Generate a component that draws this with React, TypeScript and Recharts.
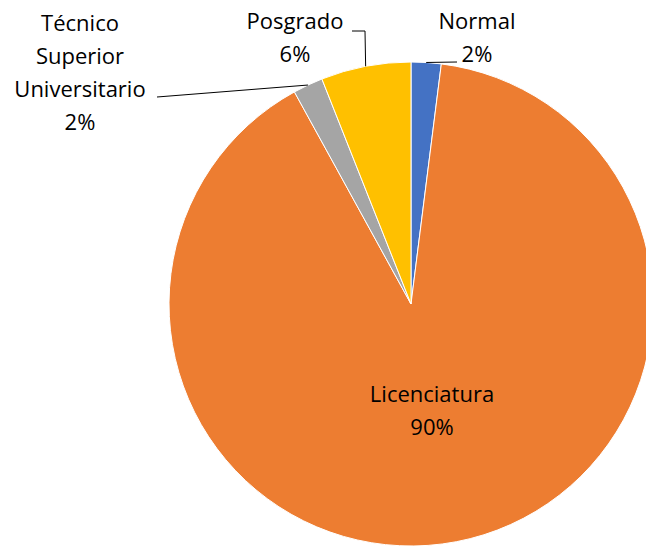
import { PieChart, Pie, Cell } from 'recharts';

const categories = ['Normal', 'Licenciatura', 'Técnico Superior Universitario', 'Posgrado'];
const shares = [2, 90, 2, 6];
const colors = ['#4472C4', '#ED7D31', '#A5A5A5', '#FFC000'];

const data = categories.map((name, i) => ({ name, value: shares[i] }));

// label placement relative to the pie centre (text lines + leader path)
const labelLayout: Record<string, { dx: number; dy: number; lines: string[]; leader?: Array<[number, number]> }> = {
  Normal: { dx: 66, dy: -284, lines: ['Normal'], leader: [[46, -242]] },
  Licenciatura: { dx: 21, dy: 89, lines: ['Licenciatura'] },
  'Técnico Superior Universitario': {
    dx: -331,
    dy: -282,
    lines: ['Técnico', 'Superior', 'Universitario'],
    leader: [[-254, -207]],
  },
  Posgrado: { dx: -116, dy: -284, lines: ['Posgrado'], leader: [[-46, -273], [-59, -273]] },
};

const LINE = 33;
const RAD = Math.PI / 180;

const renderLabel = (props: any) => {
  const { cx, cy, midAngle, outerRadius, name, value } = props;
  const layout = labelLayout[name];
  if (!layout) return null;
  const lines = [...layout.lines, `${value}%`];
  const sx = cx + outerRadius * Math.cos(-midAngle * RAD);
  const sy = cy + outerRadius * Math.sin(-midAngle * RAD);
  const pts = layout.leader ? [[sx, sy], ...layout.leader.map(([x, y]) => [cx + x, cy + y])] : null;
  return (
    <g>
      {pts && (
        <polyline
          points={pts.map((p) => p.join(',')).join(' ')}
          fill="none"
          stroke="#000"
          strokeWidth={1}
        />
      )}
      <text
        x={cx + layout.dx}
        y={cy + layout.dy}
        textAnchor="middle"
        dominantBaseline="central"
        fill="#000"
        style={{ fontSize: 22, fontFamily: "'Open Sans', 'Noto Sans', sans-serif" }}
      >
        {lines.map((l, i) => (
          <tspan key={i} x={cx + layout.dx} dy={i === 0 ? 0 : LINE}>
            {l}
          </tspan>
        ))}
      </text>
    </g>
  );
};

export default function App() {
  return (
    <div style={{ position: 'fixed', top: 0, left: 0, width: 646, height: 546, overflow: 'hidden', background: '#fff' }}>
      <PieChart width={646} height={546} margin={{ top: 0, right: 0, bottom: 0, left: 0 }}>
        <Pie
          data={data}
          dataKey="value"
          nameKey="name"
          cx={411}
          cy={304}
          outerRadius={242}
          startAngle={90}
          endAngle={-270}
          stroke="#fff"
          strokeWidth={1}
          label={renderLabel}
          labelLine={false}
          isAnimationActive={false}
        >
          {data.map((d, i) => (
            <Cell key={d.name} fill={colors[i]} />
          ))}
        </Pie>
      </PieChart>
    </div>
  );
}
